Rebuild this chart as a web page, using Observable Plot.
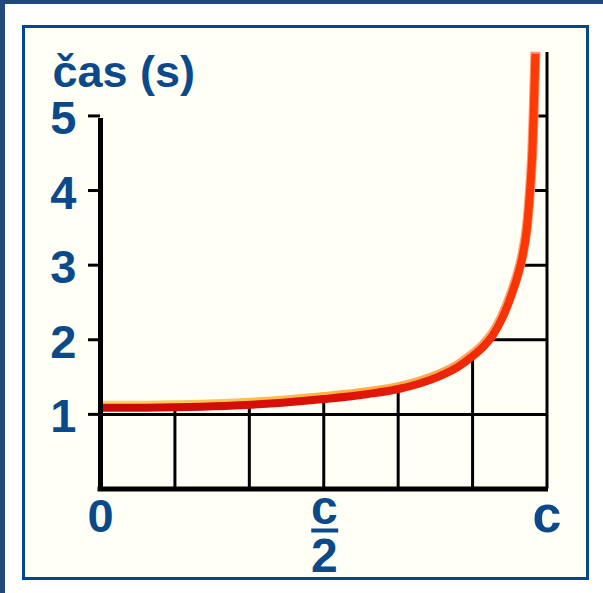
<!DOCTYPE html>
<html><head><meta charset="utf-8">
<script src="https://cdn.jsdelivr.net/npm/d3@7"></script>
<script src="https://cdn.jsdelivr.net/npm/@observablehq/plot@0.6"></script>
<style>
html,body{margin:0;padding:0;background:#fff;width:603px;height:593px;overflow:hidden;}
#topband{position:absolute;left:0;top:0;width:603px;height:4px;background:#21497c;}
#leftband{position:absolute;left:0;top:0;width:5px;height:593px;background:#21497c;}
#box{position:absolute;left:22px;top:25px;width:567px;height:555px;box-sizing:border-box;border:3px solid #00478b;background:#fffff6;}
#chart{position:absolute;left:0;top:0;}
</style></head><body>
<div id="topband"></div><div id="leftband"></div><div id="box"></div><div id="chart"></div>
<script>
// speed as a fraction of c, and the time
const vel = [0, 0.10, 0.20, 0.30, 0.40, 0.50, 0.60, 0.67, 0.72, 0.76, 0.80, 0.83, 0.86, 0.88, 0.90, 0.92, 0.935, 0.945, 0.955, 0.962, 0.967, 0.970, 0.974];
const cas = [1.094, 1.096, 1.105, 1.125, 1.16, 1.212, 1.28, 1.35, 1.43, 1.52, 1.64, 1.77, 1.93, 2.08, 2.30, 2.60, 2.88, 3.12, 3.50, 4.0, 4.5, 5.0, 5.84];
const yTicks = [1, 2, 3, 4, 5];
const gridX = [1/6, 2/6, 3/6, 4/6, 5/6];
const xTicks = [0, 0.5, 1];
const xTickLabels = ["0", "c/2", "c"];
const yTitle = "čas (s)";
const yMax = 5.85;

const blue = "#0b4a8a";
const bg = "#fffff6";
const font = "'Liberation Sans', Arial, Helvetica, sans-serif";

const curveData = vel.map((v, i) => ({v, t: cas[i]}));
const xLab = xTicks.map((v, i) => ({v, lab: xTickLabels[i]}));
const simple = xLab.filter(d => !d.lab.includes("/"));
const fracs = xLab.filter(d => d.lab.includes("/"));

const svg = Plot.plot({
  width: 603, height: 593,
  marginLeft: 100, marginRight: 56.5, marginTop: 52, marginBottom: 104.5,
  style: {background: "transparent", fontFamily: font, overflow: "visible"},
  x: {domain: [0, 1], axis: null},
  y: {domain: [0, yMax], axis: null},
  marks: [
    Plot.ruleX(gridX, {x: d => d, y1: 0, y2: yMax, stroke: "black", strokeWidth: 3}),
    Plot.ruleY(yTicks, {y: d => d, x1: 0, x2: 1, stroke: "black", strokeWidth: 3}),
    Plot.areaY(curveData, {x: "v", y1: "t", y2: yMax, fill: bg, curve: "monotone-x"}),
    Plot.ruleY(yTicks, {y: d => d, x1: 0, x2: 0, insetLeft: -12, stroke: "black", strokeWidth: 3}),
    Plot.ruleX([1], {y1: 0, y2: yMax, stroke: "black", strokeWidth: 3}),
    Plot.line(curveData, {x: "v", y: "t", stroke: "url(#hlGrad)", strokeWidth: 10, dy: -1.5, curve: "monotone-x", strokeLinecap: "butt"}),
    Plot.line(curveData, {x: "v", y: "t", stroke: "url(#curveGrad)", strokeWidth: 8, dy: 0.5, curve: "monotone-x", strokeLinecap: "butt"}),
    Plot.ruleX([0], {y1: 0, y2: 5, stroke: "black", strokeWidth: 5, insetBottom: -2.5}),
    Plot.ruleY([0], {x1: 0, x2: 1, stroke: "black", strokeWidth: 5, insetLeft: -2.5, insetRight: -1.5}),
    Plot.text(yTicks, {x: 0, y: d => d, text: d => String(d), textAnchor: "end", lineAnchor: "bottom", dx: -24, dy: 18, fontSize: 47, fontWeight: "bold", fill: blue}),
    Plot.text(simple, {x: "v", y: 0, text: "lab", lineAnchor: "bottom", dy: 43, fontSize: d => /\d/.test(d.lab) ? 47 : 52, fontWeight: "bold", fill: blue}),
    Plot.text(fracs, {x: "v", y: 0, text: d => d.lab.split("/").join("\n"), lineAnchor: "bottom", lineHeight: 1, dx: 0.5, dy: 82.5, fontSize: 48, fontWeight: "bold", fill: blue}),
    Plot.ruleY(fracs, {y: 0, x1: "v", x2: "v", insetLeft: -13.5, insetRight: -13.5, dx: 1.5, dy: 41.5, stroke: blue, strokeWidth: 4}),
    Plot.text([yTitle], {frameAnchor: "top-left", textAnchor: "start", lineAnchor: "bottom", dx: -48, dy: 34, fontSize: 45, fontWeight: "bold", fill: blue})
  ]
});

const defs = d3.select(svg).insert("defs", ":first-child");
const g1 = defs.append("linearGradient").attr("id", "curveGrad");
[["0", "#c80808"], ["0.55", "#dc1208"], ["0.85", "#f02a06"], ["1", "#ff3a04"]].forEach(([o, c]) => g1.append("stop").attr("offset", o).attr("stop-color", c));
const g2 = defs.append("linearGradient").attr("id", "hlGrad");
[["0", "#ffd068"], ["0.6", "#ffb040"], ["1", "#ff9a78"]].forEach(([o, c]) => g2.append("stop").attr("offset", o).attr("stop-color", c));

document.getElementById("chart").appendChild(svg);
</script></body></html>
